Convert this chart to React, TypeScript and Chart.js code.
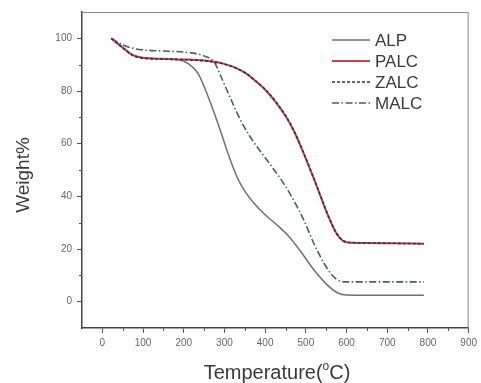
import React, { useEffect, useRef } from "react";
import { Chart, registerables } from "chart.js";

Chart.register(...registerables);

const seriesNames = ["ALP", "PALC", "ZALC", "MALC"];

const alpTemp = [22, 50, 75, 100, 150, 190, 210, 235, 267, 290, 305, 320, 335, 352, 372, 400, 430, 460, 490, 520, 555, 580, 600, 650, 700, 790];
const alpWeight = [100, 96.5, 93.6, 92.6, 92.2, 91.8, 90.5, 86.7, 75, 65, 58, 51.5, 46, 41.5, 37.5, 33, 29, 24.5, 18.5, 12, 6, 3.2, 2.5, 2.4, 2.4, 2.4];

const palcTemp = [22, 50, 75, 100, 150, 200, 250, 275, 300, 325, 350, 375, 400, 425, 450, 470, 490, 515, 535, 555, 575, 590, 602, 650, 700, 790];
const palcWeight = [100, 96.5, 93.6, 92.6, 92.2, 92, 91.6, 91.1, 90.3, 89, 87, 84, 80.5, 76, 70.5, 65, 58, 48.5, 40.5, 32.5, 26, 23.2, 22.5, 22.3, 22.2, 22];

const zalcTemp = [22, 50, 75, 100, 150, 200, 250, 275, 300, 325, 350, 375, 400, 425, 450, 470, 490, 515, 535, 555, 575, 590, 602, 650, 700, 790];
const zalcWeight = [100, 96.4, 93.5, 92.5, 92.1, 91.9, 91.5, 91, 90.2, 88.9, 87, 84, 80.6, 76.2, 70.7, 65.2, 58.2, 48.6, 40.6, 32.6, 26, 23.3, 22.6, 22.3, 22.2, 22];

const malcTemp = [22, 50, 75, 100, 150, 200, 230, 255, 275, 290, 307, 330, 348, 370, 396, 420, 445, 470, 495, 520, 545, 565, 585, 600, 650, 700, 790];
const malcWeight = [100, 97.5, 96.2, 95.6, 95.2, 94.8, 94.2, 93, 91, 86, 80, 72, 66.5, 61, 55.5, 50.5, 45, 38.5, 31, 22, 14.5, 10, 7.7, 7.5, 7.5, 7.5, 7.5];

const xTicks = [0, 100, 200, 300, 400, 500, 600, 700, 800, 900];
const yTicks = [0, 20, 40, 60, 80, 100];
const xMinorTicks = [50, 150, 250, 350, 450, 550, 650, 750, 850];
const yMinorTicks = [10, 30, 50, 70, 90];

const seriesColors = ["#707070", "#c8404f", "#333333", "#4d5e5c"];
const seriesDash: number[][] = [[], [], [3, 2], [7, 2.5, 1.5, 2.5]];
const seriesWidth = [1.5, 2, 1.6, 1.6];

const toPoints = (t: number[], w: number[]) => t.map((x, i) => ({ x, y: w[i] }));

const framePlugin = {
  id: "frameAndLegend",
  afterDraw(chart: any) {
    const { ctx, chartArea } = chart;
    const { left, right, top, bottom } = chartArea;
    const xs = chart.scales.x;
    const ys = chart.scales.y;
    ctx.save();
    ctx.strokeStyle = "#8a8a8a";
    ctx.lineWidth = 1;
    ctx.beginPath();
    ctx.moveTo(left, top + 0.5);
    ctx.lineTo(right - 0.5, top + 0.5);
    ctx.lineTo(right - 0.5, bottom);
    ctx.stroke();
    ctx.strokeStyle = "#555";
    ctx.lineWidth = 1;
    ctx.beginPath();
    xMinorTicks.forEach((v) => {
      const px = Math.round(xs.getPixelForValue(v)) + 0.5;
      ctx.moveTo(px, bottom);
      ctx.lineTo(px, bottom + 3);
    });
    yMinorTicks.forEach((v) => {
      const py = Math.round(ys.getPixelForValue(v)) + 0.5;
      ctx.moveTo(left, py);
      ctx.lineTo(left - 3, py);
    });
    ctx.stroke();

    const lx0 = 332;
    const lx1 = 370;
    const rows = [40, 61, 82, 103];
    ctx.font = "17px 'Liberation Sans', Arial, sans-serif";
    ctx.textBaseline = "middle";
    ctx.textAlign = "left";
    seriesNames.forEach((name, i) => {
      ctx.strokeStyle = seriesColors[i];
      ctx.lineWidth = seriesWidth[i];
      ctx.setLineDash(seriesDash[i]);
      ctx.beginPath();
      ctx.moveTo(lx0, rows[i]);
      ctx.lineTo(lx1, rows[i]);
      ctx.stroke();
      ctx.setLineDash([]);
      ctx.fillStyle = "#3a3a3a";
      ctx.fillText(name, 375, rows[i] + 1);
    });

    ctx.fillStyle = "#3a3a3a";
    ctx.font = "19px 'Liberation Sans', Arial, sans-serif";
    ctx.save();
    ctx.translate(24, 175);
    ctx.rotate(-Math.PI / 2);
    ctx.textAlign = "center";
    ctx.textBaseline = "middle";
    ctx.fillText("Weight%", 0, 0);
    ctx.restore();

    const part1 = "Temperature(";
    const sup = "o";
    const part2 = "C)";
    const bigFont = "20px 'Liberation Sans', Arial, sans-serif";
    const smallFont = "12px 'Liberation Sans', Arial, sans-serif";
    ctx.font = bigFont;
    const w1 = ctx.measureText(part1).width;
    const w3 = ctx.measureText(part2).width;
    ctx.font = smallFont;
    const w2 = ctx.measureText(sup).width;
    const total = w1 + w2 + w3;
    let x = 277 - total / 2;
    const base = 379;
    ctx.textAlign = "left";
    ctx.textBaseline = "alphabetic";
    ctx.font = bigFont;
    ctx.fillText(part1, x, base);
    x += w1;
    ctx.font = smallFont;
    ctx.fillText(sup, x, base - 9);
    x += w2;
    ctx.font = bigFont;
    ctx.fillText(part2, x, base);
    ctx.restore();
  },
};

export default function App() {
  const ref = useRef<HTMLCanvasElement | null>(null);
  useEffect(() => {
    document.body.style.margin = "0";
    const canvas = ref.current;
    if (!canvas) return;
    const datasets = [
      { label: seriesNames[0], data: toPoints(alpTemp, alpWeight), order: 2 },
      { label: seriesNames[1], data: toPoints(palcTemp, palcWeight), order: 1 },
      { label: seriesNames[2], data: toPoints(zalcTemp, zalcWeight), order: 0 },
      { label: seriesNames[3], data: toPoints(malcTemp, malcWeight), order: 2 },
    ].map((d, i) => ({
      ...d,
      borderColor: seriesColors[i],
      backgroundColor: seriesColors[i],
      borderWidth: seriesWidth[i],
      borderDash: seriesDash[i],
      pointRadius: 0,
      fill: false,
      cubicInterpolationMode: "monotone" as const,
    }));
    const chart = new Chart(canvas, {
      type: "line",
      data: { datasets },
      options: {
        animation: false,
        responsive: true,
        maintainAspectRatio: false,
        layout: { padding: { top: 12, right: 8, left: 0, bottom: 0 } },
        plugins: { legend: { display: false }, tooltip: { enabled: false } },
        scales: {
          x: {
            type: "linear",
            min: -50,
            max: 900,
            afterBuildTicks: (scale: any) => {
              scale.ticks = xTicks.map((v) => ({ value: v }));
            },
            afterFit: (scale: any) => {
              scale.height = 55;
            },
            grid: { display: true, drawOnChartArea: false, drawTicks: true, tickLength: 5, color: "#555" },
            border: { display: true, color: "#444", width: 1.5 },
            ticks: {
              color: "#666",
              font: { size: 10, family: "'Liberation Sans', Arial, sans-serif" },
              padding: 4,
              maxRotation: 0,
              autoSkip: false,
            },
          },
          y: {
            type: "linear",
            min: -10,
            max: 110,
            afterBuildTicks: (scale: any) => {
              scale.ticks = yTicks.map((v) => ({ value: v }));
            },
            afterFit: (scale: any) => {
              scale.width = 82;
            },
            grid: { display: true, drawOnChartArea: false, drawTicks: true, tickLength: 5, color: "#555" },
            border: { display: true, color: "#444", width: 1.5 },
            ticks: {
              color: "#666",
              font: { size: 10, family: "'Liberation Sans', Arial, sans-serif" },
              padding: 5,
              autoSkip: false,
            },
          },
        },
      },
      plugins: [framePlugin],
    });
    return () => chart.destroy();
  }, []);
  return (
    <div style={{ position: "fixed", left: 0, top: 0, width: 481, height: 383, background: "#fff" }}>
      <canvas ref={ref} />
    </div>
  );
}
